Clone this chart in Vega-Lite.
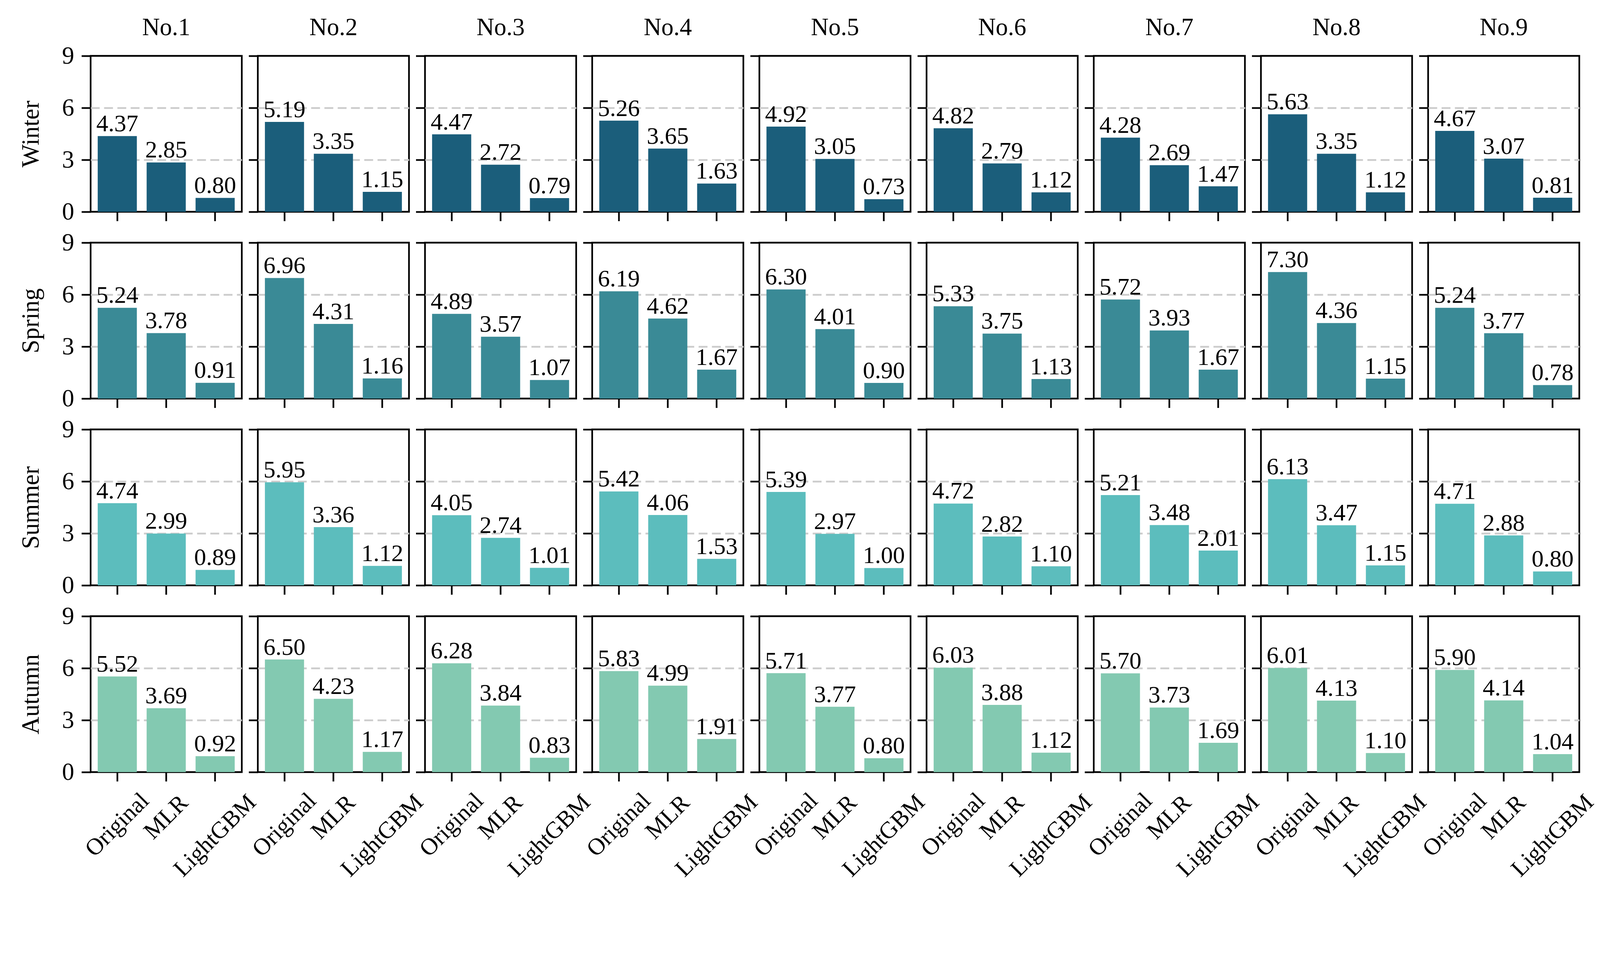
{
  "$schema": "https://vega.github.io/schema/vega-lite/v6.json",
  "padding": {"left": 46, "top": 37, "right": 5, "bottom": 5},
  "bounds": "flush",
  "align": "all",
  "columns": 9,
  "spacing": {"row": 79, "column": 41},
  "data": {"values": [
    {"s":"Winter","n":"No.1","m":"Original","v":4.37},{"s":"Winter","n":"No.1","m":"MLR","v":2.85},{"s":"Winter","n":"No.1","m":"LightGBM","v":0.80},
    {"s":"Winter","n":"No.2","m":"Original","v":5.19},{"s":"Winter","n":"No.2","m":"MLR","v":3.35},{"s":"Winter","n":"No.2","m":"LightGBM","v":1.15},
    {"s":"Winter","n":"No.3","m":"Original","v":4.47},{"s":"Winter","n":"No.3","m":"MLR","v":2.72},{"s":"Winter","n":"No.3","m":"LightGBM","v":0.79},
    {"s":"Winter","n":"No.4","m":"Original","v":5.26},{"s":"Winter","n":"No.4","m":"MLR","v":3.65},{"s":"Winter","n":"No.4","m":"LightGBM","v":1.63},
    {"s":"Winter","n":"No.5","m":"Original","v":4.92},{"s":"Winter","n":"No.5","m":"MLR","v":3.05},{"s":"Winter","n":"No.5","m":"LightGBM","v":0.73},
    {"s":"Winter","n":"No.6","m":"Original","v":4.82},{"s":"Winter","n":"No.6","m":"MLR","v":2.79},{"s":"Winter","n":"No.6","m":"LightGBM","v":1.12},
    {"s":"Winter","n":"No.7","m":"Original","v":4.28},{"s":"Winter","n":"No.7","m":"MLR","v":2.69},{"s":"Winter","n":"No.7","m":"LightGBM","v":1.47},
    {"s":"Winter","n":"No.8","m":"Original","v":5.63},{"s":"Winter","n":"No.8","m":"MLR","v":3.35},{"s":"Winter","n":"No.8","m":"LightGBM","v":1.12},
    {"s":"Winter","n":"No.9","m":"Original","v":4.67},{"s":"Winter","n":"No.9","m":"MLR","v":3.07},{"s":"Winter","n":"No.9","m":"LightGBM","v":0.81},
    {"s":"Spring","n":"No.1","m":"Original","v":5.24},{"s":"Spring","n":"No.1","m":"MLR","v":3.78},{"s":"Spring","n":"No.1","m":"LightGBM","v":0.91},
    {"s":"Spring","n":"No.2","m":"Original","v":6.96},{"s":"Spring","n":"No.2","m":"MLR","v":4.31},{"s":"Spring","n":"No.2","m":"LightGBM","v":1.16},
    {"s":"Spring","n":"No.3","m":"Original","v":4.89},{"s":"Spring","n":"No.3","m":"MLR","v":3.57},{"s":"Spring","n":"No.3","m":"LightGBM","v":1.07},
    {"s":"Spring","n":"No.4","m":"Original","v":6.19},{"s":"Spring","n":"No.4","m":"MLR","v":4.62},{"s":"Spring","n":"No.4","m":"LightGBM","v":1.67},
    {"s":"Spring","n":"No.5","m":"Original","v":6.30},{"s":"Spring","n":"No.5","m":"MLR","v":4.01},{"s":"Spring","n":"No.5","m":"LightGBM","v":0.90},
    {"s":"Spring","n":"No.6","m":"Original","v":5.33},{"s":"Spring","n":"No.6","m":"MLR","v":3.75},{"s":"Spring","n":"No.6","m":"LightGBM","v":1.13},
    {"s":"Spring","n":"No.7","m":"Original","v":5.72},{"s":"Spring","n":"No.7","m":"MLR","v":3.93},{"s":"Spring","n":"No.7","m":"LightGBM","v":1.67},
    {"s":"Spring","n":"No.8","m":"Original","v":7.30},{"s":"Spring","n":"No.8","m":"MLR","v":4.36},{"s":"Spring","n":"No.8","m":"LightGBM","v":1.15},
    {"s":"Spring","n":"No.9","m":"Original","v":5.24},{"s":"Spring","n":"No.9","m":"MLR","v":3.77},{"s":"Spring","n":"No.9","m":"LightGBM","v":0.78},
    {"s":"Summer","n":"No.1","m":"Original","v":4.74},{"s":"Summer","n":"No.1","m":"MLR","v":2.99},{"s":"Summer","n":"No.1","m":"LightGBM","v":0.89},
    {"s":"Summer","n":"No.2","m":"Original","v":5.95},{"s":"Summer","n":"No.2","m":"MLR","v":3.36},{"s":"Summer","n":"No.2","m":"LightGBM","v":1.12},
    {"s":"Summer","n":"No.3","m":"Original","v":4.05},{"s":"Summer","n":"No.3","m":"MLR","v":2.74},{"s":"Summer","n":"No.3","m":"LightGBM","v":1.01},
    {"s":"Summer","n":"No.4","m":"Original","v":5.42},{"s":"Summer","n":"No.4","m":"MLR","v":4.06},{"s":"Summer","n":"No.4","m":"LightGBM","v":1.53},
    {"s":"Summer","n":"No.5","m":"Original","v":5.39},{"s":"Summer","n":"No.5","m":"MLR","v":2.97},{"s":"Summer","n":"No.5","m":"LightGBM","v":1.00},
    {"s":"Summer","n":"No.6","m":"Original","v":4.72},{"s":"Summer","n":"No.6","m":"MLR","v":2.82},{"s":"Summer","n":"No.6","m":"LightGBM","v":1.10},
    {"s":"Summer","n":"No.7","m":"Original","v":5.21},{"s":"Summer","n":"No.7","m":"MLR","v":3.48},{"s":"Summer","n":"No.7","m":"LightGBM","v":2.01},
    {"s":"Summer","n":"No.8","m":"Original","v":6.13},{"s":"Summer","n":"No.8","m":"MLR","v":3.47},{"s":"Summer","n":"No.8","m":"LightGBM","v":1.15},
    {"s":"Summer","n":"No.9","m":"Original","v":4.71},{"s":"Summer","n":"No.9","m":"MLR","v":2.88},{"s":"Summer","n":"No.9","m":"LightGBM","v":0.80},
    {"s":"Autumn","n":"No.1","m":"Original","v":5.52},{"s":"Autumn","n":"No.1","m":"MLR","v":3.69},{"s":"Autumn","n":"No.1","m":"LightGBM","v":0.92},
    {"s":"Autumn","n":"No.2","m":"Original","v":6.50},{"s":"Autumn","n":"No.2","m":"MLR","v":4.23},{"s":"Autumn","n":"No.2","m":"LightGBM","v":1.17},
    {"s":"Autumn","n":"No.3","m":"Original","v":6.28},{"s":"Autumn","n":"No.3","m":"MLR","v":3.84},{"s":"Autumn","n":"No.3","m":"LightGBM","v":0.83},
    {"s":"Autumn","n":"No.4","m":"Original","v":5.83},{"s":"Autumn","n":"No.4","m":"MLR","v":4.99},{"s":"Autumn","n":"No.4","m":"LightGBM","v":1.91},
    {"s":"Autumn","n":"No.5","m":"Original","v":5.71},{"s":"Autumn","n":"No.5","m":"MLR","v":3.77},{"s":"Autumn","n":"No.5","m":"LightGBM","v":0.80},
    {"s":"Autumn","n":"No.6","m":"Original","v":6.03},{"s":"Autumn","n":"No.6","m":"MLR","v":3.88},{"s":"Autumn","n":"No.6","m":"LightGBM","v":1.12},
    {"s":"Autumn","n":"No.7","m":"Original","v":5.70},{"s":"Autumn","n":"No.7","m":"MLR","v":3.73},{"s":"Autumn","n":"No.7","m":"LightGBM","v":1.69},
    {"s":"Autumn","n":"No.8","m":"Original","v":6.01},{"s":"Autumn","n":"No.8","m":"MLR","v":4.13},{"s":"Autumn","n":"No.8","m":"LightGBM","v":1.10},
    {"s":"Autumn","n":"No.9","m":"Original","v":5.90},{"s":"Autumn","n":"No.9","m":"MLR","v":4.14},{"s":"Autumn","n":"No.9","m":"LightGBM","v":1.04}
  ]},
  "concat": [
    {"transform":[{"filter":"datum.s=='Winter'&&datum.n=='No.1'"}],"title":{"text":"No.1","dy":29},"encoding":{"x":{"field":"m","type":"nominal","sort":null,"title":null},"y":{"field":"v","type":"quantitative","scale":{"domain":[0,9]},"title":"Winter","axis":{"values":[0,3,6,9],"labels":true}}},"layer":[{"mark":"bar","encoding":{"color":{"field":"s","legend":null}}},{"mark":"text","encoding":{"text":{"field":"v","format":".2f"}}}]},
    {"transform":[{"filter":"datum.s=='Winter'&&datum.n=='No.2'"}],"title":"No.2","encoding":{"x":{"field":"m","type":"nominal","sort":null,"title":null},"y":{"field":"v","type":"quantitative","scale":{"domain":[0,9]},"title":null,"axis":{"values":[0,3,6,9]}}},"layer":[{"mark":"bar","encoding":{"color":{"field":"s","legend":null}}},{"mark":"text","encoding":{"text":{"field":"v","format":".2f"}}}]},
    {"transform":[{"filter":"datum.s=='Winter'&&datum.n=='No.3'"}],"title":"No.3","encoding":{"x":{"field":"m","type":"nominal","sort":null,"title":null},"y":{"field":"v","type":"quantitative","scale":{"domain":[0,9]},"title":null,"axis":{"values":[0,3,6,9]}}},"layer":[{"mark":"bar","encoding":{"color":{"field":"s","legend":null}}},{"mark":"text","encoding":{"text":{"field":"v","format":".2f"}}}]},
    {"transform":[{"filter":"datum.s=='Winter'&&datum.n=='No.4'"}],"title":"No.4","encoding":{"x":{"field":"m","type":"nominal","sort":null,"title":null},"y":{"field":"v","type":"quantitative","scale":{"domain":[0,9]},"title":null,"axis":{"values":[0,3,6,9]}}},"layer":[{"mark":"bar","encoding":{"color":{"field":"s","legend":null}}},{"mark":"text","encoding":{"text":{"field":"v","format":".2f"}}}]},
    {"transform":[{"filter":"datum.s=='Winter'&&datum.n=='No.5'"}],"title":"No.5","encoding":{"x":{"field":"m","type":"nominal","sort":null,"title":null},"y":{"field":"v","type":"quantitative","scale":{"domain":[0,9]},"title":null,"axis":{"values":[0,3,6,9]}}},"layer":[{"mark":"bar","encoding":{"color":{"field":"s","legend":null}}},{"mark":"text","encoding":{"text":{"field":"v","format":".2f"}}}]},
    {"transform":[{"filter":"datum.s=='Winter'&&datum.n=='No.6'"}],"title":"No.6","encoding":{"x":{"field":"m","type":"nominal","sort":null,"title":null},"y":{"field":"v","type":"quantitative","scale":{"domain":[0,9]},"title":null,"axis":{"values":[0,3,6,9]}}},"layer":[{"mark":"bar","encoding":{"color":{"field":"s","legend":null}}},{"mark":"text","encoding":{"text":{"field":"v","format":".2f"}}}]},
    {"transform":[{"filter":"datum.s=='Winter'&&datum.n=='No.7'"}],"title":"No.7","encoding":{"x":{"field":"m","type":"nominal","sort":null,"title":null},"y":{"field":"v","type":"quantitative","scale":{"domain":[0,9]},"title":null,"axis":{"values":[0,3,6,9]}}},"layer":[{"mark":"bar","encoding":{"color":{"field":"s","legend":null}}},{"mark":"text","encoding":{"text":{"field":"v","format":".2f"}}}]},
    {"transform":[{"filter":"datum.s=='Winter'&&datum.n=='No.8'"}],"title":"No.8","encoding":{"x":{"field":"m","type":"nominal","sort":null,"title":null},"y":{"field":"v","type":"quantitative","scale":{"domain":[0,9]},"title":null,"axis":{"values":[0,3,6,9]}}},"layer":[{"mark":"bar","encoding":{"color":{"field":"s","legend":null}}},{"mark":"text","encoding":{"text":{"field":"v","format":".2f"}}}]},
    {"transform":[{"filter":"datum.s=='Winter'&&datum.n=='No.9'"}],"title":"No.9","encoding":{"x":{"field":"m","type":"nominal","sort":null,"title":null},"y":{"field":"v","type":"quantitative","scale":{"domain":[0,9]},"title":null,"axis":{"values":[0,3,6,9]}}},"layer":[{"mark":"bar","encoding":{"color":{"field":"s","legend":null}}},{"mark":"text","encoding":{"text":{"field":"v","format":".2f"}}}]},

    {"transform":[{"filter":"datum.s=='Spring'&&datum.n=='No.1'"}],"encoding":{"x":{"field":"m","type":"nominal","sort":null,"title":null},"y":{"field":"v","type":"quantitative","scale":{"domain":[0,9]},"title":"Spring","axis":{"values":[0,3,6,9],"labels":true}}},"layer":[{"mark":"bar","encoding":{"color":{"field":"s","legend":null}}},{"mark":"text","encoding":{"text":{"field":"v","format":".2f"}}}]},
    {"transform":[{"filter":"datum.s=='Spring'&&datum.n=='No.2'"}],"encoding":{"x":{"field":"m","type":"nominal","sort":null,"title":null},"y":{"field":"v","type":"quantitative","scale":{"domain":[0,9]},"title":null,"axis":{"values":[0,3,6,9]}}},"layer":[{"mark":"bar","encoding":{"color":{"field":"s","legend":null}}},{"mark":"text","encoding":{"text":{"field":"v","format":".2f"}}}]},
    {"transform":[{"filter":"datum.s=='Spring'&&datum.n=='No.3'"}],"encoding":{"x":{"field":"m","type":"nominal","sort":null,"title":null},"y":{"field":"v","type":"quantitative","scale":{"domain":[0,9]},"title":null,"axis":{"values":[0,3,6,9]}}},"layer":[{"mark":"bar","encoding":{"color":{"field":"s","legend":null}}},{"mark":"text","encoding":{"text":{"field":"v","format":".2f"}}}]},
    {"transform":[{"filter":"datum.s=='Spring'&&datum.n=='No.4'"}],"encoding":{"x":{"field":"m","type":"nominal","sort":null,"title":null},"y":{"field":"v","type":"quantitative","scale":{"domain":[0,9]},"title":null,"axis":{"values":[0,3,6,9]}}},"layer":[{"mark":"bar","encoding":{"color":{"field":"s","legend":null}}},{"mark":"text","encoding":{"text":{"field":"v","format":".2f"}}}]},
    {"transform":[{"filter":"datum.s=='Spring'&&datum.n=='No.5'"}],"encoding":{"x":{"field":"m","type":"nominal","sort":null,"title":null},"y":{"field":"v","type":"quantitative","scale":{"domain":[0,9]},"title":null,"axis":{"values":[0,3,6,9]}}},"layer":[{"mark":"bar","encoding":{"color":{"field":"s","legend":null}}},{"mark":"text","encoding":{"text":{"field":"v","format":".2f"}}}]},
    {"transform":[{"filter":"datum.s=='Spring'&&datum.n=='No.6'"}],"encoding":{"x":{"field":"m","type":"nominal","sort":null,"title":null},"y":{"field":"v","type":"quantitative","scale":{"domain":[0,9]},"title":null,"axis":{"values":[0,3,6,9]}}},"layer":[{"mark":"bar","encoding":{"color":{"field":"s","legend":null}}},{"mark":"text","encoding":{"text":{"field":"v","format":".2f"}}}]},
    {"transform":[{"filter":"datum.s=='Spring'&&datum.n=='No.7'"}],"encoding":{"x":{"field":"m","type":"nominal","sort":null,"title":null},"y":{"field":"v","type":"quantitative","scale":{"domain":[0,9]},"title":null,"axis":{"values":[0,3,6,9]}}},"layer":[{"mark":"bar","encoding":{"color":{"field":"s","legend":null}}},{"mark":"text","encoding":{"text":{"field":"v","format":".2f"}}}]},
    {"transform":[{"filter":"datum.s=='Spring'&&datum.n=='No.8'"}],"encoding":{"x":{"field":"m","type":"nominal","sort":null,"title":null},"y":{"field":"v","type":"quantitative","scale":{"domain":[0,9]},"title":null,"axis":{"values":[0,3,6,9]}}},"layer":[{"mark":"bar","encoding":{"color":{"field":"s","legend":null}}},{"mark":"text","encoding":{"text":{"field":"v","format":".2f"}}}]},
    {"transform":[{"filter":"datum.s=='Spring'&&datum.n=='No.9'"}],"encoding":{"x":{"field":"m","type":"nominal","sort":null,"title":null},"y":{"field":"v","type":"quantitative","scale":{"domain":[0,9]},"title":null,"axis":{"values":[0,3,6,9]}}},"layer":[{"mark":"bar","encoding":{"color":{"field":"s","legend":null}}},{"mark":"text","encoding":{"text":{"field":"v","format":".2f"}}}]},

    {"transform":[{"filter":"datum.s=='Summer'&&datum.n=='No.1'"}],"encoding":{"x":{"field":"m","type":"nominal","sort":null,"title":null},"y":{"field":"v","type":"quantitative","scale":{"domain":[0,9]},"title":"Summer","axis":{"values":[0,3,6,9],"labels":true}}},"layer":[{"mark":"bar","encoding":{"color":{"field":"s","legend":null}}},{"mark":"text","encoding":{"text":{"field":"v","format":".2f"}}}]},
    {"transform":[{"filter":"datum.s=='Summer'&&datum.n=='No.2'"}],"encoding":{"x":{"field":"m","type":"nominal","sort":null,"title":null},"y":{"field":"v","type":"quantitative","scale":{"domain":[0,9]},"title":null,"axis":{"values":[0,3,6,9]}}},"layer":[{"mark":"bar","encoding":{"color":{"field":"s","legend":null}}},{"mark":"text","encoding":{"text":{"field":"v","format":".2f"}}}]},
    {"transform":[{"filter":"datum.s=='Summer'&&datum.n=='No.3'"}],"encoding":{"x":{"field":"m","type":"nominal","sort":null,"title":null},"y":{"field":"v","type":"quantitative","scale":{"domain":[0,9]},"title":null,"axis":{"values":[0,3,6,9]}}},"layer":[{"mark":"bar","encoding":{"color":{"field":"s","legend":null}}},{"mark":"text","encoding":{"text":{"field":"v","format":".2f"}}}]},
    {"transform":[{"filter":"datum.s=='Summer'&&datum.n=='No.4'"}],"encoding":{"x":{"field":"m","type":"nominal","sort":null,"title":null},"y":{"field":"v","type":"quantitative","scale":{"domain":[0,9]},"title":null,"axis":{"values":[0,3,6,9]}}},"layer":[{"mark":"bar","encoding":{"color":{"field":"s","legend":null}}},{"mark":"text","encoding":{"text":{"field":"v","format":".2f"}}}]},
    {"transform":[{"filter":"datum.s=='Summer'&&datum.n=='No.5'"}],"encoding":{"x":{"field":"m","type":"nominal","sort":null,"title":null},"y":{"field":"v","type":"quantitative","scale":{"domain":[0,9]},"title":null,"axis":{"values":[0,3,6,9]}}},"layer":[{"mark":"bar","encoding":{"color":{"field":"s","legend":null}}},{"mark":"text","encoding":{"text":{"field":"v","format":".2f"}}}]},
    {"transform":[{"filter":"datum.s=='Summer'&&datum.n=='No.6'"}],"encoding":{"x":{"field":"m","type":"nominal","sort":null,"title":null},"y":{"field":"v","type":"quantitative","scale":{"domain":[0,9]},"title":null,"axis":{"values":[0,3,6,9]}}},"layer":[{"mark":"bar","encoding":{"color":{"field":"s","legend":null}}},{"mark":"text","encoding":{"text":{"field":"v","format":".2f"}}}]},
    {"transform":[{"filter":"datum.s=='Summer'&&datum.n=='No.7'"}],"encoding":{"x":{"field":"m","type":"nominal","sort":null,"title":null},"y":{"field":"v","type":"quantitative","scale":{"domain":[0,9]},"title":null,"axis":{"values":[0,3,6,9]}}},"layer":[{"mark":"bar","encoding":{"color":{"field":"s","legend":null}}},{"mark":"text","encoding":{"text":{"field":"v","format":".2f"}}}]},
    {"transform":[{"filter":"datum.s=='Summer'&&datum.n=='No.8'"}],"encoding":{"x":{"field":"m","type":"nominal","sort":null,"title":null},"y":{"field":"v","type":"quantitative","scale":{"domain":[0,9]},"title":null,"axis":{"values":[0,3,6,9]}}},"layer":[{"mark":"bar","encoding":{"color":{"field":"s","legend":null}}},{"mark":"text","encoding":{"text":{"field":"v","format":".2f"}}}]},
    {"transform":[{"filter":"datum.s=='Summer'&&datum.n=='No.9'"}],"encoding":{"x":{"field":"m","type":"nominal","sort":null,"title":null},"y":{"field":"v","type":"quantitative","scale":{"domain":[0,9]},"title":null,"axis":{"values":[0,3,6,9]}}},"layer":[{"mark":"bar","encoding":{"color":{"field":"s","legend":null}}},{"mark":"text","encoding":{"text":{"field":"v","format":".2f"}}}]},

    {"transform":[{"filter":"datum.s=='Autumn'&&datum.n=='No.1'"}],"encoding":{"x":{"field":"m","type":"nominal","sort":null,"title":null,"axis":{"labels":true,"labelPadding":{"condition":[{"test":"datum.value=='Original'","value":111.5},{"test":"datum.value=='MLR'","value":91.7}],"value":139}}},"y":{"field":"v","type":"quantitative","scale":{"domain":[0,9]},"title":"Autumn","axis":{"values":[0,3,6,9],"labels":true}}},"layer":[{"mark":"bar","encoding":{"color":{"field":"s","legend":null}}},{"mark":"text","encoding":{"text":{"field":"v","format":".2f"}}}]},
    {"transform":[{"filter":"datum.s=='Autumn'&&datum.n=='No.2'"}],"encoding":{"x":{"field":"m","type":"nominal","sort":null,"title":null,"axis":{"labels":true,"labelPadding":{"condition":[{"test":"datum.value=='Original'","value":111.5},{"test":"datum.value=='MLR'","value":91.7}],"value":139}}},"y":{"field":"v","type":"quantitative","scale":{"domain":[0,9]},"title":null,"axis":{"values":[0,3,6,9]}}},"layer":[{"mark":"bar","encoding":{"color":{"field":"s","legend":null}}},{"mark":"text","encoding":{"text":{"field":"v","format":".2f"}}}]},
    {"transform":[{"filter":"datum.s=='Autumn'&&datum.n=='No.3'"}],"encoding":{"x":{"field":"m","type":"nominal","sort":null,"title":null,"axis":{"labels":true,"labelPadding":{"condition":[{"test":"datum.value=='Original'","value":111.5},{"test":"datum.value=='MLR'","value":91.7}],"value":139}}},"y":{"field":"v","type":"quantitative","scale":{"domain":[0,9]},"title":null,"axis":{"values":[0,3,6,9]}}},"layer":[{"mark":"bar","encoding":{"color":{"field":"s","legend":null}}},{"mark":"text","encoding":{"text":{"field":"v","format":".2f"}}}]},
    {"transform":[{"filter":"datum.s=='Autumn'&&datum.n=='No.4'"}],"encoding":{"x":{"field":"m","type":"nominal","sort":null,"title":null,"axis":{"labels":true,"labelPadding":{"condition":[{"test":"datum.value=='Original'","value":111.5},{"test":"datum.value=='MLR'","value":91.7}],"value":139}}},"y":{"field":"v","type":"quantitative","scale":{"domain":[0,9]},"title":null,"axis":{"values":[0,3,6,9]}}},"layer":[{"mark":"bar","encoding":{"color":{"field":"s","legend":null}}},{"mark":"text","encoding":{"text":{"field":"v","format":".2f"}}}]},
    {"transform":[{"filter":"datum.s=='Autumn'&&datum.n=='No.5'"}],"encoding":{"x":{"field":"m","type":"nominal","sort":null,"title":null,"axis":{"labels":true,"labelPadding":{"condition":[{"test":"datum.value=='Original'","value":111.5},{"test":"datum.value=='MLR'","value":91.7}],"value":139}}},"y":{"field":"v","type":"quantitative","scale":{"domain":[0,9]},"title":null,"axis":{"values":[0,3,6,9]}}},"layer":[{"mark":"bar","encoding":{"color":{"field":"s","legend":null}}},{"mark":"text","encoding":{"text":{"field":"v","format":".2f"}}}]},
    {"transform":[{"filter":"datum.s=='Autumn'&&datum.n=='No.6'"}],"encoding":{"x":{"field":"m","type":"nominal","sort":null,"title":null,"axis":{"labels":true,"labelPadding":{"condition":[{"test":"datum.value=='Original'","value":111.5},{"test":"datum.value=='MLR'","value":91.7}],"value":139}}},"y":{"field":"v","type":"quantitative","scale":{"domain":[0,9]},"title":null,"axis":{"values":[0,3,6,9]}}},"layer":[{"mark":"bar","encoding":{"color":{"field":"s","legend":null}}},{"mark":"text","encoding":{"text":{"field":"v","format":".2f"}}}]},
    {"transform":[{"filter":"datum.s=='Autumn'&&datum.n=='No.7'"}],"encoding":{"x":{"field":"m","type":"nominal","sort":null,"title":null,"axis":{"labels":true,"labelPadding":{"condition":[{"test":"datum.value=='Original'","value":111.5},{"test":"datum.value=='MLR'","value":91.7}],"value":139}}},"y":{"field":"v","type":"quantitative","scale":{"domain":[0,9]},"title":null,"axis":{"values":[0,3,6,9]}}},"layer":[{"mark":"bar","encoding":{"color":{"field":"s","legend":null}}},{"mark":"text","encoding":{"text":{"field":"v","format":".2f"}}}]},
    {"transform":[{"filter":"datum.s=='Autumn'&&datum.n=='No.8'"}],"encoding":{"x":{"field":"m","type":"nominal","sort":null,"title":null,"axis":{"labels":true,"labelPadding":{"condition":[{"test":"datum.value=='Original'","value":111.5},{"test":"datum.value=='MLR'","value":91.7}],"value":139}}},"y":{"field":"v","type":"quantitative","scale":{"domain":[0,9]},"title":null,"axis":{"values":[0,3,6,9]}}},"layer":[{"mark":"bar","encoding":{"color":{"field":"s","legend":null}}},{"mark":"text","encoding":{"text":{"field":"v","format":".2f"}}}]},
    {"transform":[{"filter":"datum.s=='Autumn'&&datum.n=='No.9'"}],"encoding":{"x":{"field":"m","type":"nominal","sort":null,"title":null,"axis":{"labels":true,"labelPadding":{"condition":[{"test":"datum.value=='Original'","value":111.5},{"test":"datum.value=='MLR'","value":91.7}],"value":139}}},"y":{"field":"v","type":"quantitative","scale":{"domain":[0,9]},"title":null,"axis":{"values":[0,3,6,9]}}},"layer":[{"mark":"bar","encoding":{"color":{"field":"s","legend":null}}},{"mark":"text","encoding":{"text":{"field":"v","format":".2f"}}}]}
  ],
  "config": {
    "font": "Liberation Serif",
    "view": {"continuousWidth": 387, "continuousHeight": 399, "discreteWidth": 387, "discreteHeight": 399, "stroke": "black", "strokeWidth": 4.3},
    "scale": {"bandPaddingInner": 0.2, "bandPaddingOuter": 0.145},
    "range": {"category": ["#83c9b1", "#3a8a96", "#5cbdbd", "#1b5e7b"]},
    "axis": {"domain": false, "ticks": true, "tickColor": "black", "tickWidth": 4.3, "tickSize": 23.5, "labelFont": "Liberation Serif", "labelColor": "black", "titleFont": "Liberation Serif", "titleFontWeight": "normal", "titleColor": "black"},
    "axisY": {"labels": false, "grid": true, "gridColor": "#cccccc", "gridDash": [22.7, 11.3], "gridWidth": 4.3, "gridOpacity": {"condition": {"test": "datum.value==0||datum.value==9", "value": 0}, "value": 1}, "labelFontSize": 62.5, "labelPadding": 19, "titleFontSize": 62.5, "titlePadding": 47},
    "axisX": {"labels": false, "grid": false, "labelFontSize": 60.5, "labelAngle": -45, "labelAlign": "center", "labelBaseline": "middle", "labelLimit": 0},
    "title": {"font": "Liberation Serif", "fontSize": 62.5, "fontWeight": "normal", "color": "black", "offset": 37.8, "baseline": "alphabetic", "frame": "group"},
    "text": {"fontSize": 61.5, "baseline": "alphabetic", "dy": -12.3, "color": "black"}
  }
}
